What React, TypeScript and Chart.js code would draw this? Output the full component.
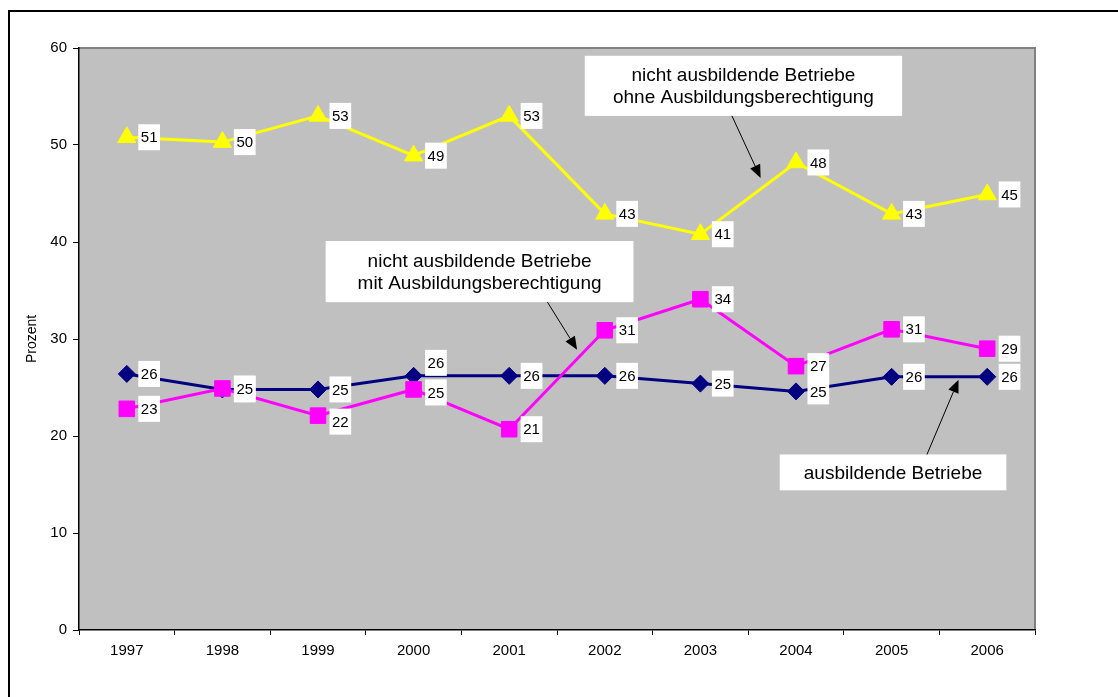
import React, { useEffect, useRef } from "react";
import { Chart, registerables } from "chart.js";

Chart.register(...registerables);

// ---- data ----
const years = ["1997", "1998", "1999", "2000", "2001", "2002", "2003", "2004", "2005", "2006"];
const ausbildende = [26.4, 24.8, 24.8, 26.2, 26.2, 26.2, 25.4, 24.6, 26.1, 26.1];
const mitBerechtigung = [22.8, 24.9, 22.1, 24.8, 20.7, 30.9, 34.1, 27.2, 31.0, 29.0];
const ohneBerechtigung = [50.8, 50.3, 53.0, 48.9, 53.0, 42.9, 40.8, 48.2, 42.9, 44.9];
const yMin = 0;
const yMax = 60;
const yStep = 10;
const yTitle = "Prozent";

// label nudges (pixels, vertical) per series, same order as datasets below
const labelNudgeMit = [0, 0, 6, 3, 0, 0, 0, 0, 0, 0];
const labelNudgeAus = [0, 0, 0, -13, 0, 0, 0, 0, 0, 0];
const labelNudgeOhne = [0, 0, 0, 0, 0, 0, 0, 0, 0, 0];

// annotation callouts in data space: box [x0, yTop, x1, yBottom], arrow [xFrom, yFrom, xTo, yTo]
const callouts = [
  {
    lines: ["nicht ausbildende Betriebe", "ohne Ausbildungsberechtigung"],
    box: [4.79, 59.2, 8.11, 53.0],
    arrow: [6.33, 53.0, 6.63, 46.6],
  },
  {
    lines: ["nicht ausbildende Betriebe", "mit Ausbildungsberechtigung"],
    box: [2.08, 40.1, 5.3, 33.8],
    arrow: [4.4, 33.8, 4.71, 28.9],
  },
  {
    lines: ["ausbildende Betriebe"],
    box: [6.83, 18.1, 9.2, 14.4],
    arrow: [8.37, 18.1, 8.7, 25.8],
  },
];

const FONT = '"Liberation Sans", Arial, Helvetica, sans-serif';

const plotFramePlugin = {
  id: "plotFrame",
  beforeDraw(chart: any) {
    const { ctx, chartArea } = chart;
    const { left, top, right, bottom } = chartArea;
    ctx.save();
    ctx.fillStyle = "#C0C0C0";
    ctx.fillRect(left, top, right - left, bottom - top);
    ctx.strokeStyle = "#808080";
    ctx.lineWidth = 2;
    ctx.beginPath();
    ctx.moveTo(left, top);
    ctx.lineTo(right, top);
    ctx.lineTo(right, bottom);
    ctx.stroke();
    ctx.restore();
  },
};

const valueLabelPlugin = {
  id: "valueLabels",
  afterDatasetsDraw(chart: any) {
    const ctx = chart.ctx;
    ctx.save();
    ctx.font = `15px ${FONT}`;
    ctx.textBaseline = "middle";
    ctx.textAlign = "center";
    for (let di = chart.data.datasets.length - 1; di >= 0; di--) {
      const ds = chart.data.datasets[di];
      const meta = chart.getDatasetMeta(di);
      const nudges = ds.labelNudge || [];
      meta.data.forEach((pt: any, i: number) => {
        const txt = String(Math.round(ds.data[i]));
        const w = ctx.measureText(txt).width + 5;
        const h = 26;
        const left = pt.x + 11.5;
        const cy = pt.y + (nudges[i] || 0);
        ctx.fillStyle = "#FFFFFF";
        ctx.fillRect(left, cy - h / 2, w, h);
        ctx.fillStyle = "#000000";
        ctx.fillText(txt, left + w / 2, cy + 1);
      });
    }
    ctx.restore();
  },
};

const calloutPlugin = {
  id: "callouts",
  afterDatasetsDraw(chart: any) {
    const ctx = chart.ctx;
    const xs = chart.scales.x;
    const ys = chart.scales.y;
    ctx.save();
    callouts.forEach((c) => {
      const x0 = xs.getPixelForValue(c.box[0]);
      const y0 = ys.getPixelForValue(c.box[1]);
      const x1 = xs.getPixelForValue(c.box[2]);
      const y1 = ys.getPixelForValue(c.box[3]);
      ctx.fillStyle = "#FFFFFF";
      ctx.fillRect(x0, y0, x1 - x0, y1 - y0);
      ctx.fillStyle = "#000000";
      ctx.font = `19px ${FONT}`;
      ctx.textAlign = "center";
      ctx.textBaseline = "middle";
      const lh = 22.5;
      const cx = (x0 + x1) / 2;
      const cy = (y0 + y1) / 2;
      c.lines.forEach((ln, i) => {
        ctx.fillText(ln, cx, cy + (i - (c.lines.length - 1) / 2) * lh + 1);
      });
      const ax0 = xs.getPixelForValue(c.arrow[0]);
      const ay0 = ys.getPixelForValue(c.arrow[1]);
      const ax1 = xs.getPixelForValue(c.arrow[2]);
      const ay1 = ys.getPixelForValue(c.arrow[3]);
      const ang = Math.atan2(ay1 - ay0, ax1 - ax0);
      const headLen = 13;
      const headW = 5.5;
      const bx = ax1 - headLen * Math.cos(ang);
      const by = ay1 - headLen * Math.sin(ang);
      ctx.strokeStyle = "#000000";
      ctx.lineWidth = 1;
      ctx.beginPath();
      ctx.moveTo(ax0, ay0);
      ctx.lineTo(bx, by);
      ctx.stroke();
      ctx.beginPath();
      ctx.moveTo(ax1, ay1);
      ctx.lineTo(bx + headW * Math.sin(ang), by - headW * Math.cos(ang));
      ctx.lineTo(bx - headW * Math.sin(ang), by + headW * Math.cos(ang));
      ctx.closePath();
      ctx.fill();
    });
    ctx.restore();
  },
};

export default function App() {
  const canvasRef = useRef<HTMLCanvasElement | null>(null);

  useEffect(() => {
    if (!canvasRef.current) return;
    const chart = new Chart(canvasRef.current, {
      type: "line",
      data: {
        labels: years,
        datasets: [
          {
            label: "nicht ausbildende Betriebe mit Ausbildungsberechtigung",
            data: mitBerechtigung,
            borderColor: "#FF00FF",
            backgroundColor: "#FF00FF",
            borderWidth: 3,
            pointStyle: "rect",
            pointRadius: 11,
            pointBorderWidth: 1,
            pointBorderColor: "#FF00FF",
            pointBackgroundColor: "#FF00FF",
            tension: 0,
            labelNudge: labelNudgeMit,
          } as any,
          {
            label: "ausbildende Betriebe",
            data: ausbildende,
            borderColor: "#000080",
            backgroundColor: "#000080",
            borderWidth: 3,
            pointStyle: "rectRot",
            pointRadius: 8.5,
            pointBorderWidth: 1,
            pointBorderColor: "#000080",
            pointBackgroundColor: "#000080",
            tension: 0,
            labelNudge: labelNudgeAus,
          } as any,
          {
            label: "nicht ausbildende Betriebe ohne Ausbildungsberechtigung",
            data: ohneBerechtigung,
            borderColor: "#FFFF00",
            backgroundColor: "#FFFF00",
            borderWidth: 3,
            pointStyle: "triangle",
            pointRadius: 10.5,
            pointBorderWidth: 1,
            pointBorderColor: "#FFFF00",
            pointBackgroundColor: "#FFFF00",
            tension: 0,
            labelNudge: labelNudgeOhne,
          } as any,
        ],
      },
      options: {
        responsive: false,
        animation: false,
        events: [],
        layout: { padding: { left: 0, top: 48, right: 83, bottom: 0 } },
        plugins: {
          legend: { display: false },
          tooltip: { enabled: false },
          title: { display: false },
        },
        scales: {
          x: {
            type: "category",
            offset: true,
            grid: {
              offset: true,
              drawOnChartArea: false,
              drawTicks: true,
              tickLength: 5,
              color: "#000000",
              lineWidth: 1,
            },
            border: { display: true, color: "#000000", width: 1.5 },
            ticks: {
              color: "#000000",
              font: { family: FONT, size: 15 },
              padding: 7,
              maxRotation: 0,
              autoSkip: false,
            },
            afterFit: (s: any) => {
              s.height = 67;
            },
          },
          y: {
            min: yMin,
            max: yMax,
            ticks: {
              stepSize: yStep,
              color: "#000000",
              font: { family: FONT, size: 15 },
              padding: 6,
            },
            grid: {
              drawOnChartArea: false,
              drawTicks: true,
              tickLength: 6,
              color: "#000000",
              lineWidth: 1,
            },
            border: { display: true, color: "#000000", width: 1.5 },
            title: {
              display: true,
              text: yTitle,
              color: "#000000",
              font: { family: FONT, size: 14 },
              padding: { top: 24, bottom: 0 },
            },
            afterFit: (s: any) => {
              s.width = 79;
            },
          },
        },
      } as any,
      plugins: [plotFramePlugin, valueLabelPlugin, calloutPlugin],
    });
    return () => chart.destroy();
  }, []);

  return (
    <div
      style={{
        position: "fixed",
        left: 0,
        top: 0,
        width: 1118,
        height: 697,
        background: "#FFFFFF",
        overflow: "hidden",
      }}
    >
      <div
        style={{
          position: "absolute",
          left: 8,
          top: 10,
          width: 1110,
          height: 687,
          borderTop: "2px solid #000000",
          borderLeft: "2px solid #000000",
          boxSizing: "border-box",
        }}
      />
      <canvas
        ref={canvasRef}
        width={1118}
        height={697}
        style={{ position: "absolute", left: 0, top: 0, width: 1118, height: 697 }}
      />
    </div>
  );
}
